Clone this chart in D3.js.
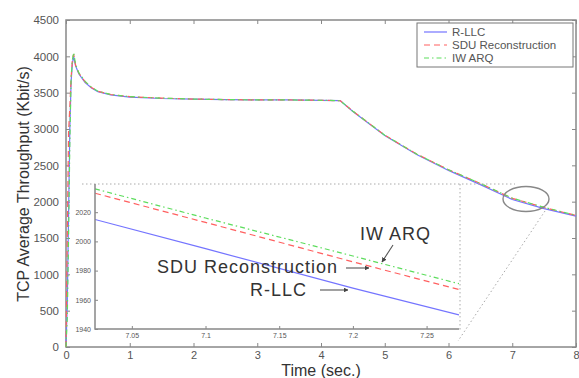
<!DOCTYPE html>
<html>
<head>
<meta charset="utf-8">
<script src="https://cdn.jsdelivr.net/npm/d3@7"></script>
<style>
  body { margin: 0; background: #fff; }
  svg { font-family: "Liberation Sans", Arial, sans-serif; }
</style>
</head>
<body>
<script>
// main curves
const mainTime = [0, 0.02, 0.04, 0.06, 0.08, 0.1, 0.12, 0.15, 0.2, 0.3, 0.4, 0.5, 0.7, 1.0, 1.5, 2, 2.5, 3, 3.5, 4, 4.3, 4.5, 5, 5.5, 6, 6.5, 7, 7.5, 8];
const rllcMain  = [0, 600, 1800, 3000, 3650, 3900, 4000, 3870, 3760, 3640, 3565, 3515, 3470, 3440, 3420, 3410, 3405, 3400, 3400, 3395, 3390, 3240, 2910, 2650, 2430, 2235, 2030, 1905, 1800];
const sduMain   = [0, 1500, 2950, 3300, 3700, 3950, 4030, 3880, 3770, 3650, 3570, 3520, 3475, 3445, 3425, 3412, 3405, 3400, 3400, 3395, 3390, 3245, 2915, 2655, 2440, 2250, 2045, 1920, 1810];
const iwarqMain = [0, 400, 1500, 2800, 3700, 3950, 4050, 3890, 3775, 3655, 3575, 3520, 3475, 3445, 3425, 3412, 3405, 3400, 3400, 3395, 3390, 3245, 2915, 2655, 2440, 2250, 2048, 1922, 1812];

// zoomed inset
const insetTime  = [7.025, 7.1, 7.2, 7.272];
const rllcInset  = [2015, 1995, 1968, 1949.6];
const sduInset   = [2033, 2013, 1986, 1967];
const iwarqInset = [2036, 2016, 1990, 1971];

const xTicks = [0, 1, 2, 3, 4, 5, 6, 7, 8];
const yTicks = [0, 500, 1000, 1500, 2000, 2500, 3000, 3500, 4000, 4500];
const insetXTicks = [7.05, 7.1, 7.15, 7.2, 7.25];
const insetYTicks = [1940, 1960, 1980, 2000, 2020];

const seriesNames = ["R-LLC", "SDU Reconstruction", "IW ARQ"];
const colors = ["#7474ff", "#ff6060", "#5ddd5d"];
const dashes = [null, "6,4", "5,3,1.5,3"];

const width = 579, height = 378;
const svg = d3.select("body").append("svg")
  .attr("width", width).attr("height", height);

const x = d3.scaleLinear().domain([0, 8]).range([66, 576]);
const y = d3.scaleLinear().domain([0, 4500]).range([347, 20]);

const axisColor = "#888";
const textColor = "#555";

// main axes (box with inward ticks)
function styleAxis(g, showText) {
  g.select(".domain").remove();
  g.selectAll("line").attr("stroke", axisColor).attr("stroke-width", 1);
  g.selectAll("text").attr("fill", textColor).attr("font-size", 11.5);
  if (!showText) g.selectAll("text").remove();
}
svg.append("g").attr("transform", "translate(0,347)")
  .call(d3.axisBottom(x).tickValues(xTicks).tickSize(-4).tickPadding(4).tickFormat(d3.format("d")))
  .call(g => styleAxis(g, true))
  .call(g => g.selectAll("text").attr("font-size", 11));
svg.append("g").attr("transform", "translate(0,20)")
  .call(d3.axisTop(x).tickValues(xTicks).tickSize(-4))
  .call(g => styleAxis(g, false));
svg.append("g").attr("transform", "translate(66,0)")
  .call(d3.axisLeft(y).tickValues(yTicks).tickSize(-4).tickPadding(7).tickFormat(d3.format("d")))
  .call(g => styleAxis(g, true));
svg.append("g").attr("transform", "translate(576,0)")
  .call(d3.axisRight(y).tickValues(yTicks).tickSize(-4))
  .call(g => styleAxis(g, false));
svg.append("rect")
  .attr("x", 66).attr("y", 20).attr("width", 510).attr("height", 327)
  .attr("fill", "none").attr("stroke", axisColor).attr("stroke-width", 1.5);

// main lines
const mainLine = d3.line().x((d, i) => x(mainTime[i])).y(d => y(d));
[rllcMain, sduMain, iwarqMain].forEach((vals, k) => {
  svg.append("path")
    .attr("d", mainLine(vals))
    .attr("fill", "none")
    .attr("stroke", colors[k])
    .attr("stroke-width", 1.2)
    .attr("stroke-dasharray", dashes[k]);
});

// inset
const ix = d3.scaleLinear().domain([7.025, 7.272]).range([95, 459]);
const iy = d3.scaleLinear().domain([1940, 2040]).range([329, 183]);

svg.append("defs").append("clipPath").attr("id", "insetClip")
  .append("rect").attr("x", 95).attr("y", 183).attr("width", 364).attr("height", 146);
svg.append("rect").attr("x", 95).attr("y", 184).attr("width", 364).attr("height", 145).attr("fill", "#fff");

// zoom guide lines
function guide(x1, y1, x2, y2) {
  svg.append("line").attr("x1", x1).attr("y1", y1).attr("x2", x2).attr("y2", y2)
    .attr("stroke", "#aaa").attr("stroke-width", 1).attr("stroke-dasharray", "1.5,2.5");
}
guide(82, 184, 515, 184);
guide(460, 184, 460, 330);
guide(545, 211, 458, 341);

svg.append("ellipse")
  .attr("cx", 526).attr("cy", 199).attr("rx", 23).attr("ry", 12.5)
  .attr("fill", "none").attr("stroke", "#888").attr("stroke-width", 1.4);

const insetLine = d3.line().x((d, i) => ix(insetTime[i])).y(d => iy(d));
[rllcInset, sduInset, iwarqInset].forEach((vals, k) => {
  svg.append("path")
    .attr("clip-path", "url(#insetClip)")
    .attr("d", insetLine(vals))
    .attr("fill", "none")
    .attr("stroke", colors[k])
    .attr("stroke-width", 1.2)
    .attr("stroke-dasharray", dashes[k]);
});

function styleInset(g) {
  g.select(".domain").remove();
  g.selectAll("line").attr("stroke", axisColor);
  g.selectAll("text").attr("fill", textColor).attr("font-size", 7);
}
svg.append("g").attr("transform", "translate(0,329)")
  .call(d3.axisBottom(ix).tickValues(insetXTicks).tickSize(-3).tickPadding(4).tickFormat(d => d3.format("")(+d.toFixed(2))))
  .call(styleInset);
svg.append("g").attr("transform", "translate(95,0)")
  .call(d3.axisLeft(iy).tickValues(insetYTicks).tickSize(-3).tickPadding(4).tickFormat(d3.format("d")))
  .call(styleInset);
svg.append("path")
  .attr("d", "M95,184V329H459")
  .attr("fill", "none").attr("stroke", axisColor).attr("stroke-width", 1.5);

// annotations
svg.append("defs").append("marker")
  .attr("id", "arr").attr("viewBox", "0 0 10 10").attr("refX", 9).attr("refY", 5)
  .attr("markerWidth", 4.5).attr("markerHeight", 4.5).attr("orient", "auto")
  .append("path").attr("d", "M0,0L10,5L0,10z").attr("fill", "#444");

const notes = [
  { text: "IW ARQ", tx: 360, ty: 240, ax: [393, 245, 382, 262] },
  { text: "SDU Reconstruction", tx: 157, ty: 273, ax: [346, 268, 369, 268] },
  { text: "R-LLC", tx: 250, ty: 296, ax: [320, 290, 348, 290] }
];
notes.forEach(n => {
  svg.append("text").attr("x", n.tx).attr("y", n.ty)
    .attr("font-size", 18).attr("letter-spacing", 1).attr("fill", "#333")
    .text(n.text);
  svg.append("line")
    .attr("x1", n.ax[0]).attr("y1", n.ax[1]).attr("x2", n.ax[2]).attr("y2", n.ax[3])
    .attr("stroke", "#555").attr("stroke-width", 1.1).attr("marker-end", "url(#arr)");
});

// legend
const lg = svg.append("g");
lg.append("rect").attr("x", 417).attr("y", 23).attr("width", 156).attr("height", 44)
  .attr("fill", "#fff").attr("stroke", "#777").attr("stroke-width", 1);
seriesNames.forEach((name, k) => {
  const ly = 32 + k * 13;
  lg.append("line").attr("x1", 424).attr("x2", 447).attr("y1", ly).attr("y2", ly)
    .attr("stroke", colors[k]).attr("stroke-width", 1.2).attr("stroke-dasharray", dashes[k]);
  lg.append("text").attr("x", 452).attr("y", ly + 4).attr("font-size", 11.5)
    .attr("fill", textColor).text(name);
});

// axis titles
svg.append("text").attr("x", 321).attr("y", 376).attr("text-anchor", "middle")
  .attr("font-size", 16).attr("fill", "#333").text("Time (sec.)");
svg.append("text").attr("transform", "translate(29,184) rotate(-90)")
  .attr("text-anchor", "middle").attr("font-size", 16).attr("fill", "#333")
  .text("TCP Average Throughput (Kbit/s)");
</script>
</body>
</html>
